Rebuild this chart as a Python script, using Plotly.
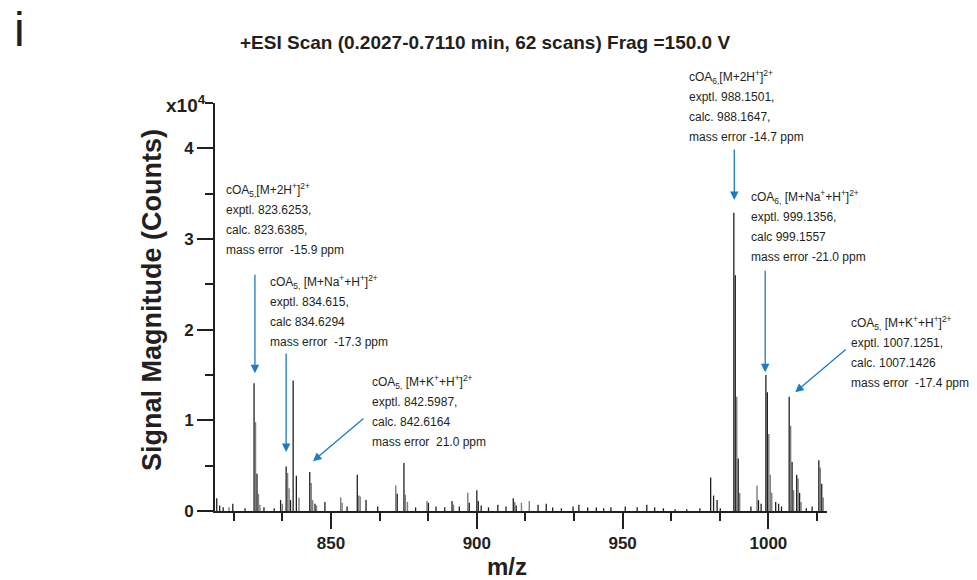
import plotly.graph_objects as go

# ---------------- data (signal in units of 10^4 counts) ----------------
mz_black = [810.8, 811.8, 813.0, 816.3, 820.5, 823.6, 824.6, 827.0, 830.5, 832.7,
            834.6, 836.1, 837.0, 838.1, 842.7, 844.5, 847.9, 855.5, 859.0, 862.0,
            866.0, 872.7, 875.0, 879.0, 883.4, 886.0, 889.0, 891.5, 894.0, 897.4,
            900.0, 900.5, 901.5, 904.0, 907.2, 910.0, 912.5, 913.5, 921.0, 923.8,
            926.0, 929.0, 933.0, 935.0, 938.0, 941.0, 943.5, 946.0, 950.9, 955.0,
            958.3, 961.0, 964.0, 968.0, 972.0, 976.5, 980.2, 981.2, 982.4, 983.5,
            988.15, 988.65, 989.65, 994.0, 996.6, 997.5, 999.14, 999.64, 1002.5, 1003.5,
            1004.5, 1007.13, 1008.13, 1009.7, 1010.7, 1013.0, 1015.0, 1017.3, 1018.3]
int_black = [0.14, 0.06, 0.04, 0.08, 0.03, 1.41, 0.41, 0.04, 0.03, 0.12,
             0.49, 0.12, 1.44, 0.39, 0.43, 0.08, 0.10, 0.05, 0.40, 0.12,
             0.05, 0.19, 0.53, 0.04, 0.09, 0.05, 0.04, 0.11, 0.05, 0.09,
             0.23, 0.11, 0.06, 0.04, 0.07, 0.05, 0.14, 0.06, 0.07, 0.08,
             0.04, 0.03, 0.05, 0.07, 0.04, 0.04, 0.03, 0.04, 0.05, 0.04,
             0.07, 0.04, 0.03, 0.02, 0.02, 0.03, 0.37, 0.17, 0.12, 0.03,
             3.29, 2.60, 0.58, 0.05, 0.12, 0.08, 1.50, 1.31, 0.10, 0.08,
             0.05, 1.26, 0.54, 0.40, 0.20, 0.03, 0.05, 0.56, 0.30]

mz_gray = [815.0, 824.1, 825.1, 825.6, 833.3, 835.1, 835.6, 839.0, 843.2, 843.7,
           845.0, 853.3, 853.8, 859.5, 860.0, 872.2, 875.5, 876.2, 882.9, 892.0,
           896.9, 913.0, 915.3, 918.0, 990.15, 989.15, 996.1, 1000.14, 1000.64, 1001.14,
           1007.63, 1008.63, 1010.2, 1011.2, 1017.8, 1018.8]
int_gray = [0.04, 0.98, 0.19, 0.07, 0.08, 0.42, 0.25, 0.15, 0.31, 0.12,
            0.06, 0.15, 0.09, 0.17, 0.16, 0.28, 0.18, 0.10, 0.11, 0.07,
            0.20, 0.10, 0.09, 0.11, 0.20, 1.26, 0.28, 0.85, 0.40, 0.20,
            0.94, 0.23, 0.36, 0.10, 0.48, 0.15]

y_ticks = [0, 1, 2, 3, 4]
x_ticks = [850, 900, 950, 1000]

title_text = "+ESI Scan (0.2027-0.7110 min, 62 scans) Frag =150.0 V"
blocks = [
    ["cOA<sub>5,</sub>[M+2H<sup>+</sup>]<sup>2+</sup>", "exptl. 823.6253,", "calc. 823.6385,", "mass error  -15.9 ppm"],
    ["cOA<sub>5,</sub> [M+Na<sup>+</sup>+H<sup>+</sup>]<sup>2+</sup>", "exptl. 834.615,", "calc 834.6294", "mass error  -17.3 ppm"],
    ["cOA<sub>5,</sub> [M+K<sup>+</sup>+H<sup>+</sup>]<sup>2+</sup>", "exptl. 842.5987,", "calc. 842.6164", "mass error  21.0 ppm"],
    ["cOA<sub>6,</sub>[M+2H<sup>+</sup>]<sup>2+</sup>", "exptl. 988.1501,", "calc. 988.1647,", "mass error -14.7 ppm"],
    ["cOA<sub>6,</sub> [M+Na<sup>+</sup>+H<sup>+</sup>]<sup>2+</sup>", "exptl. 999.1356,", "calc 999.1557", "mass error -21.0 ppm"],
    ["cOA<sub>5,</sub> [M+K<sup>+</sup>+H<sup>+</sup>]<sup>2+</sup>", "exptl. 1007.1251,", "calc. 1007.1426", "mass error  -17.4 ppm"],
]

# ---------------- layout helpers ----------------
W, H = 977, 580
L, R, T, B = 215, 150, 103, 69
PW, PH = W - L - R, H - T - B
FONT = "Liberation Sans, Arial, Helvetica, sans-serif"
INK = "#231f20"
BLUE = "#1b7cc2"


def px(x):
    return (x - L) / PW


def py(y):
    return (H - B - y) / PH


def sticks(xs, ys):
    X, Y = [], []
    for a, b in zip(xs, ys):
        X += [a, a, None]
        Y += [0, b, None]
    return X, Y


fig = go.Figure()
gx, gy = sticks(mz_gray, int_gray)
fig.add_trace(go.Scatter(x=gx, y=gy, mode="lines", line=dict(color="#7d7d7d", width=1.4),
                         hoverinfo="skip", showlegend=False, cliponaxis=True))
bx, by = sticks(mz_black, int_black)
fig.add_trace(go.Scatter(x=bx, y=by, mode="lines", line=dict(color=INK, width=1.3),
                         hoverinfo="skip", showlegend=False, cliponaxis=True))

ann = []
# panel letter
ann.append(dict(text="i", xref="paper", yref="paper", x=px(12), y=py(30), xanchor="left",
                yanchor="middle", showarrow=False, font=dict(family=FONT, size=48, color=INK)))
# title
ann.append(dict(text="<b>" + title_text + "</b>", xref="paper", yref="paper", x=px(485), y=py(42),
                xanchor="center", yanchor="middle", showarrow=False,
                font=dict(family=FONT, size=19, color=INK)))
# x10^4
ann.append(dict(text="<b>x10<sup>4</sup></b>", xref="paper", yref="paper", x=px(208), y=py(104),
                xanchor="right", yanchor="middle", showarrow=False,
                font=dict(family=FONT, size=19, color=INK)))
# axis titles
ann.append(dict(text="<b>Signal Magnitude (Counts)</b>", xref="paper", yref="paper", x=px(152), y=py(300),
                xanchor="center", yanchor="middle", textangle=-90, showarrow=False,
                font=dict(family=FONT, size=27, color=INK)))
ann.append(dict(text="<b>m/z</b>", xref="paper", yref="paper", x=px(507), y=py(566),
                xanchor="center", yanchor="middle", showarrow=False,
                font=dict(family=FONT, size=24, color=INK)))

# text blocks (left px, first line centre px)
block_pos = [(224, 190), (268, 282), (370, 382), (687, 77), (749, 197), (849, 323)]
for (bxp, byp), lines in zip(block_pos, blocks):
    for i, t in enumerate(lines):
        ann.append(dict(text=t.replace("  ", "&nbsp; "), xref="paper", yref="paper", x=px(bxp), y=py(byp + 20 * i),
                        xanchor="left", yanchor="middle", showarrow=False,
                        font=dict(family=FONT, size=12, color=INK)))

# arrows: head in data coords, tail offset in pixels
arrows = [(823.9, 1.52, 0, -100), (834.6, 0.65, 0, -100), (843.8, 0.55, 52, -44),
          (988.3, 3.43, 0, -52), (998.9, 1.53, 0, -103), (1009.2, 1.31, 52, -44)]
for hx, hy, ox, oy in arrows:
    ann.append(dict(x=hx, y=hy, xref="x", yref="y", ax=ox, ay=oy, text="", showarrow=True,
                    arrowhead=2, arrowsize=1.3, arrowwidth=1.3, arrowcolor=BLUE, standoff=0,
                    startstandoff=0))

tickfont = dict(family=FONT, size=17, color=INK)
fig.update_layout(
    width=W, height=H, margin=dict(l=L, r=R, t=T, b=B, autoexpand=False),
    paper_bgcolor="white", plot_bgcolor="white",
    annotations=ann,
    xaxis=dict(range=[810.2, 1020.1], showgrid=False, zeroline=False, showline=True,
               linecolor=INK, linewidth=2, ticks="outside", ticklen=16, tickwidth=2,
               tickcolor=INK, tickvals=x_ticks, ticktext=["<b>%d</b>" % v for v in x_ticks],
               tickfont=tickfont,
               minor=dict(ticks="outside", ticklen=8, tickwidth=2, tickcolor=INK,
                          tick0=850, dtick=50 / 3, showgrid=False)),
    yaxis=dict(range=[0, 4.5], showgrid=False, zeroline=False, showline=True,
               linecolor=INK, linewidth=2, ticks="outside", ticklen=16, tickwidth=2,
               tickcolor=INK, tickvals=y_ticks, ticktext=["<b>%d</b>" % v for v in y_ticks],
               tickfont=tickfont,
               minor=dict(ticks="outside", ticklen=8, tickwidth=2, tickcolor=INK,
                          tick0=0, dtick=0.5, showgrid=False)),
)

fig.write_html("out.html")
